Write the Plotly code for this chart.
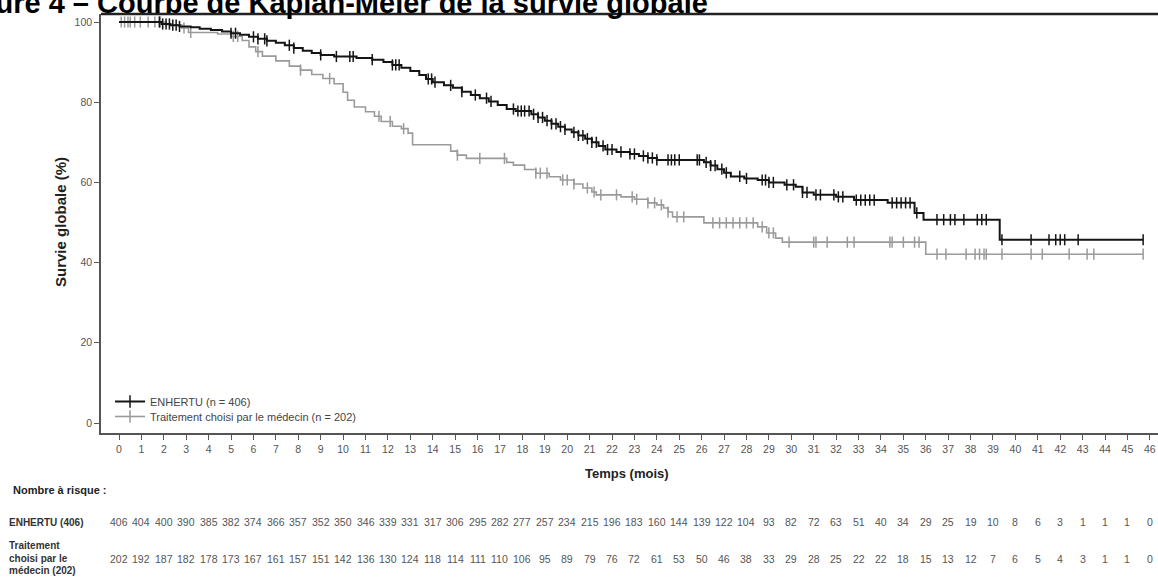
import plotly.graph_objects as go
from bisect import bisect_right

# ---------------- data ----------------
months = list(range(0, 47))

enh_times = [1.9, 2.3, 2.7, 3.2, 3.6, 4.1, 4.6, 5.0, 5.4, 5.8, 6.2, 6.6, 7.0, 7.4, 7.8, 8.2, 8.6, 9.0,
             9.6, 10.6, 11.3, 11.8, 12.2, 12.6, 13.0, 13.4, 13.7, 14.0, 14.5, 14.9, 15.3, 15.7, 16.1,
             16.5, 16.9, 17.3, 17.7, 18.4, 18.7, 19.0, 19.3, 19.6, 19.9, 20.2, 20.5, 20.8, 21.1, 21.4,
             21.7, 22.2, 22.8, 23.2, 23.6, 24.0, 26.1, 26.4, 26.7, 27.0, 27.3, 27.9, 28.5, 29.0, 29.7,
             30.2, 30.5, 31.0, 32.0, 32.8, 34.3, 35.5, 35.9, 39.3]
enh_surv = [99.5, 99.2, 98.9, 98.7, 98.3, 98.0, 97.6, 97.2, 96.8, 96.3, 95.8, 95.3, 94.8, 94.2, 93.5,
            92.8, 92.3, 91.8, 91.4, 91.0, 90.6, 90.0, 89.3, 88.6, 87.8, 86.8, 85.8, 85.0, 84.2, 83.6,
            82.6, 81.8, 81.0, 80.2, 79.3, 78.3, 77.8, 77.0, 76.2, 75.4, 74.6, 73.9, 73.2, 72.5, 71.7,
            70.9, 70.0, 69.1, 68.2, 67.6, 67.1, 66.6, 66.1, 65.6, 65.0, 64.2, 63.3, 62.4, 61.5, 61.0,
            60.6, 60.0, 59.4, 58.9, 57.5, 56.9, 56.4, 55.6, 54.9, 52.4, 50.7, 45.7]
enh_censor = [1.8, 1.95, 2.1, 2.25, 2.4, 2.55, 2.7, 5.0, 5.2, 6.0, 6.2, 6.5, 6.6, 7.6, 7.8, 9.0, 9.7,
              10.3, 10.45, 11.3, 12.2, 12.35, 12.5, 13.8, 13.95, 14.1, 14.8, 15.3, 15.9, 16.4, 16.6,
              17.6, 17.8, 17.95, 18.1, 18.3, 18.5, 18.7, 18.9, 19.1, 19.3, 19.5, 19.7, 19.9, 20.3,
              20.5, 20.7, 20.9, 21.1, 21.3, 21.6, 21.8, 22.0, 22.4, 22.8, 23.0, 23.4, 23.6, 23.8,
              24.0, 24.5, 24.65, 24.8, 25.0, 25.8, 25.9, 26.2, 26.4, 26.6, 26.9, 27.1, 27.7, 28.0,
              28.7, 28.85, 29.0, 29.2, 29.8, 30.1, 30.5, 30.7, 31.1, 31.3, 31.9, 32.1, 32.3, 32.9,
              33.1, 33.3, 33.5, 33.7, 34.5, 34.7, 34.9, 35.1, 35.3, 35.6, 36.5, 36.8, 37.1, 37.3,
              37.7, 38.3, 38.5, 38.7, 39.4, 40.7, 41.5, 41.8, 42.0, 42.2, 42.8, 45.7]

ctl_times = [2.1, 2.8, 3.1, 4.4, 5.0, 5.5, 5.8, 6.1, 6.4, 7.0, 7.6, 8.1, 8.6, 9.1, 9.6, 10.0, 10.2,
             10.5, 11.0, 11.4, 11.7, 12.2, 12.6, 12.9, 13.1, 14.8, 15.1, 15.5, 17.3, 17.6, 18.1,
             18.6, 19.2, 19.7, 20.3, 20.7, 21.1, 21.3, 22.4, 23.0, 23.6, 24.0, 24.3, 24.5, 24.7,
             26.1, 28.5, 28.9, 29.3, 29.6, 36.0]
ctl_surv = [99.3, 98.5, 97.4, 97.0, 96.4, 95.4, 93.8, 92.6, 91.5, 90.3, 89.0, 88.0, 86.9, 85.9,
            84.6, 82.5, 80.5, 78.8, 77.6, 76.5, 75.2, 74.0, 73.4, 72.3, 69.4, 67.8, 66.8, 66.0,
            65.0, 64.3, 63.2, 62.3, 61.4, 60.6, 59.6, 58.6, 57.6, 56.9, 56.4, 55.8, 54.9, 54.4,
            53.6, 52.6, 51.4, 49.9, 48.9, 47.4, 46.1, 45.1, 42.1]
ctl_censor = [0.1, 0.25, 0.4, 0.5, 0.7, 0.95, 1.3, 1.6, 1.85, 2.9, 3.2, 5.1, 5.3, 6.2, 8.1, 9.4,
              11.6, 12.1, 12.7, 15.1, 16.1, 17.2, 18.6, 18.8, 19.1, 19.8, 20.0, 20.3, 20.9, 21.2,
              21.5, 22.2, 22.9, 23.1, 23.6, 23.9, 24.2, 24.5, 24.9, 25.2, 26.5, 26.8, 27.1, 27.4,
              27.7, 28.0, 28.3, 28.7, 29.0, 29.2, 29.9, 31.0, 31.1, 31.6, 32.5, 32.8, 34.4, 34.5,
              35.0, 35.5, 35.7, 36.5, 36.9, 37.8, 38.2, 38.4, 38.6, 38.7, 39.4, 40.7, 41.2, 42.4,
              43.2, 43.5, 45.7]

follow_up_end = 45.7

enh_risk = [406, 404, 400, 390, 385, 382, 374, 366, 357, 352, 350, 346, 339, 331, 317, 306, 295,
            282, 277, 257, 234, 215, 196, 183, 160, 144, 139, 122, 104, 93, 82, 72, 63, 51, 40,
            34, 29, 25, 19, 10, 8, 6, 3, 1, 1, 1, 0]
ctl_risk = [202, 192, 187, 182, 178, 173, 167, 161, 157, 151, 142, 136, 130, 124, 118, 114, 111,
            110, 106, 95, 89, 79, 76, 72, 61, 53, 50, 46, 38, 33, 29, 28, 25, 22, 22, 18, 15, 13,
            12, 7, 6, 5, 4, 3, 1, 1, 0]

enh_name = "ENHERTU (n = 406)"
ctl_name = "Traitement choisi par le médecin (n = 202)"
title_text = "Figure 4 – Courbe de Kaplan-Meier de la survie globale"

# ---------------- helpers ----------------
def step_xy(times, surv, end):
    return [0] + times + [end], [100] + surv + [surv[-1]]

def surv_at(times, surv, t):
    i = bisect_right(times, t)
    return 100 if i == 0 else surv[i - 1]

FONT = "Arial, Liberation Sans, sans-serif"
BLACK = "#151515"
GRAY = "#9a9a9a"

W, H = 1158, 577
ML, MR, MT, MB = 101, 0, 14, 144
PW, PH = W - ML - MR, H - MT - MB

def px(xp):
    return (xp - ML) / PW

def py(yp):
    return (H - MB - yp) / PH

fig = go.Figure()

for times, surv, cens, color, lw in [
    (ctl_times, ctl_surv, ctl_censor, GRAY, 1.6),
    (enh_times, enh_surv, enh_censor, BLACK, 2.0),
]:
    sx, sy = step_xy(times, surv, follow_up_end)
    fig.add_trace(go.Scatter(x=sx, y=sy, mode="lines", line=dict(color=color, width=lw, shape="hv"),
                             showlegend=False, hoverinfo="skip"))
    fig.add_trace(go.Scatter(x=cens, y=[surv_at(times, surv, t) for t in cens], mode="markers",
                             marker=dict(symbol="line-ns", size=8, line=dict(color=color, width=1.5)),
                             showlegend=False, hoverinfo="skip"))

for color, lw, name, leg in [(BLACK, 2.0, enh_name, "legend"), (GRAY, 1.6, ctl_name, "legend2")]:
    fig.add_trace(go.Scatter(x=[None], y=[None], mode="lines+markers", name=name, legend=leg,
                             line=dict(color=color, width=lw),
                             marker=dict(symbol="line-ns", size=9, line=dict(color=color, width=1.5))))

annotations = []
# title (cropped at left edge in the original)
annotations.append(dict(text=f"<b>{title_text}</b>", xref="paper", yref="paper",
                        x=px(-50), y=py(3), xanchor="left", yanchor="middle", showarrow=False,
                        font=dict(family=FONT, size=29, color="#000")))
annotations.append(dict(text="<b>Temps (mois)</b>", xref="paper", yref="paper", x=px(627), y=py(474),
                        xanchor="center", yanchor="middle", showarrow=False,
                        font=dict(family=FONT, size=13, color="#222")))
annotations.append(dict(text="<b>Survie globale (%)</b>", xref="paper", yref="paper", x=px(60), y=py(222),
                        xanchor="center", yanchor="middle", showarrow=False, textangle=-90,
                        font=dict(family=FONT, size=15, color="#222")))
annotations.append(dict(text="<b>Nombre à risque :</b>", xref="paper", yref="paper", x=px(11), y=py(490),
                        xanchor="left", yanchor="middle", showarrow=False,
                        font=dict(family=FONT, size=11, color="#222")))
annotations.append(dict(text="<b>ENHERTU (406)</b>", xref="paper", yref="paper", x=px(7), y=py(522),
                        xanchor="left", yanchor="middle", showarrow=False,
                        font=dict(family=FONT, size=10, color="#333")))
for line_text, ypix in [("Traitement", 545), ("choisi par le", 558), ("médecin (202)", 570)]:
    annotations.append(dict(text=f"<b>{line_text}</b>", xref="paper", yref="paper", x=px(7), y=py(ypix),
                            xanchor="left", yanchor="middle", showarrow=False,
                            font=dict(family=FONT, size=10, color="#333")))
for row, ypix in [(enh_risk, 522), (ctl_risk, 559)]:
    for m, n in zip(months, row):
        annotations.append(dict(text=str(n), xref="x", yref="paper", x=m, y=py(ypix),
                                xanchor="center", yanchor="middle", showarrow=False,
                                font=dict(family=FONT, size=10.5, color="#555")))

legend_style = dict(xanchor="left", yanchor="top", bgcolor="rgba(0,0,0,0)",
                    font=dict(family=FONT, size=11, color="#444"), tracegroupgap=0, itemwidth=30)

fig.update_layout(
    width=W, height=H,
    margin=dict(l=ML, r=MR, t=MT, b=MB, pad=0),
    paper_bgcolor="white", plot_bgcolor="white",
    font=dict(family=FONT, size=10.5, color="#555"),
    showlegend=True,
    legend=dict(x=px(110), y=py(387), **legend_style),
    legend2=dict(x=px(110), y=py(402), **legend_style),
    annotations=annotations,
    shapes=[dict(type="line", xref="paper", yref="paper", x0=0, x1=1, y0=1, y1=1,
                 line=dict(color="#222", width=2.5))],
)
fig.update_xaxes(range=[-18 / 22.41, (W - 119) / 22.41], tickmode="array", tickvals=months,
                 ticktext=[str(m) for m in months], showgrid=False, zeroline=False,
                 showline=True, linecolor="#555", linewidth=2, ticks="outside", ticklen=5,
                 tickcolor="#555", tickwidth=1.3, tickfont=dict(size=10.5, color="#555"))
fig.update_yaxes(range=[-10 / 4.01, (423 - 14) / 4.01], tickvals=[0, 20, 40, 60, 80, 100],
                 showgrid=False, zeroline=False, showline=True, linecolor="#555", linewidth=1.5,
                 ticks="outside", ticklen=5, tickcolor="#555", tickwidth=1.3,
                 tickfont=dict(size=10.5, color="#555"))

fig.write_html("out.html")
